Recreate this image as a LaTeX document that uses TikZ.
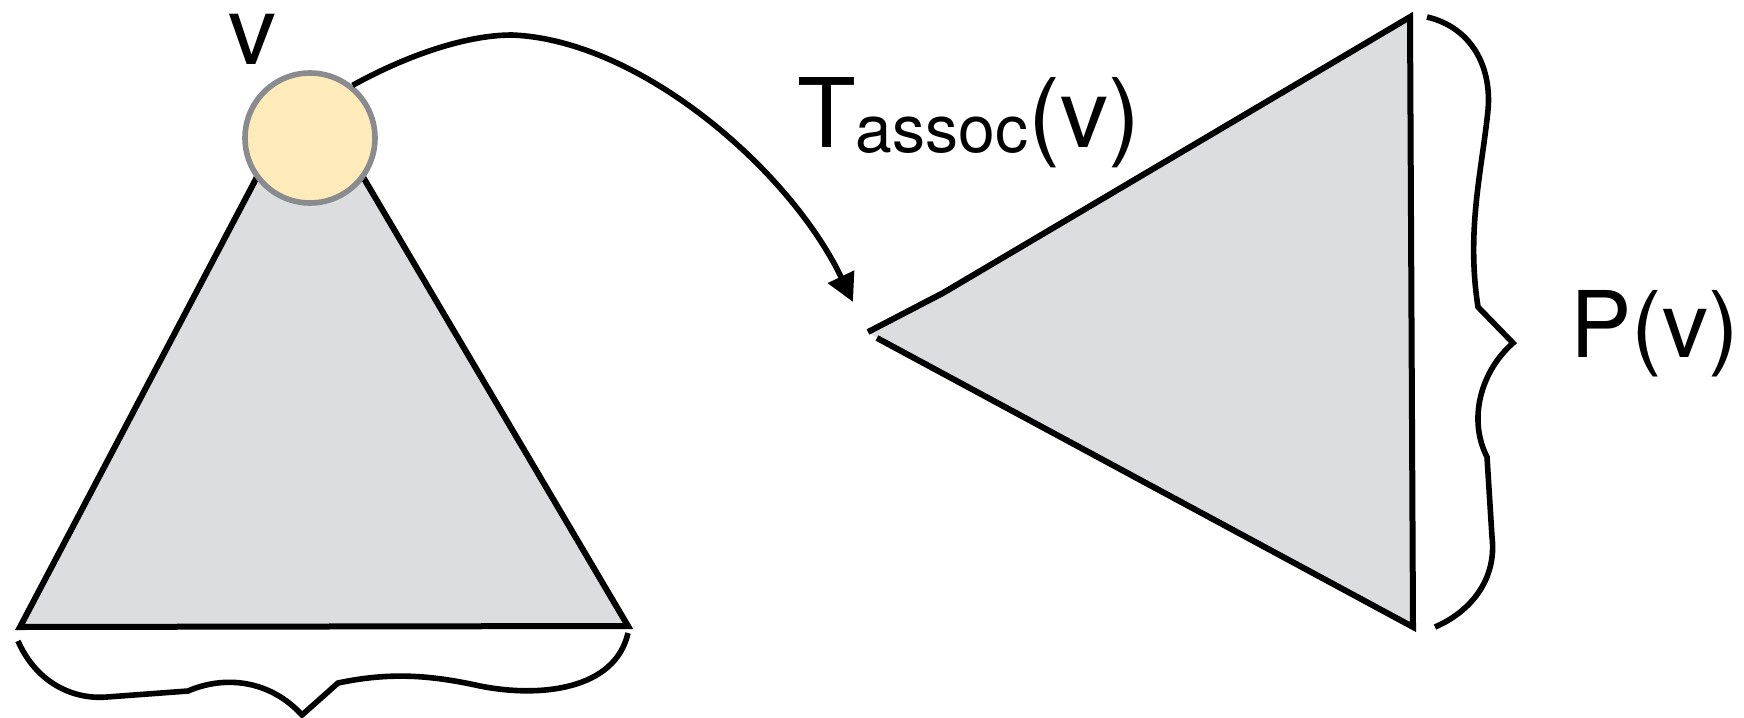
\documentclass[tikz,border=0pt]{standalone}
\usepackage{fontspec}
\setmainfont{TeX Gyre Heros}
\usepackage{xcolor}
\usetikzlibrary{arrows.meta}

\definecolor{trigray}{HTML}{DCDDE0}
\definecolor{nodefill}{HTML}{FEEBB9}
\definecolor{nodeline}{HTML}{898B8F}

\begin{document}
\begin{tikzpicture}[x=1pt, y=-1pt]
        % Define styles for trees, braces and the vertex
        \tikzstyle{tree} = [draw=black, line width=6pt, fill=trigray]
        \tikzstyle{brace} = [draw=black, line width=5.6pt]
        \tikzstyle{vertex} = [circle, draw=nodeline, line width=5.6pt, fill=nodefill,
                              minimum size=130pt, inner sep=0pt]
        \tikzstyle{bigtext} = [inner sep=0pt, font=\fontsize{96}{100}\selectfont]
        \tikzstyle{arrow} = [line width=5.6pt, -{Triangle[length=28pt,width=28pt]}]

        \useasboundingbox (0,0) rectangle (1744,717);

        % Left tree with vertex v on top
        \path[tree] (20,627) -- (307,82) -- (628,626) -- cycle;
        \node (vnode) [vertex] at (310,138) {};
        \node (vlabel) [bigtext, anchor=base] at (252,64) {v};

        % Brace under the left tree
        \path[brace] (18,641) .. controls (35,680) and (70,700) .. (107,697)
            -- (188,691) .. controls (225,675) and (270,680) .. (302,715)
            -- (338,683) .. controls (390,672) and (430,675) .. (480,686)
            .. controls (540,698) and (615,690) .. (628,633);

        % Right tree, open at its tip
        \fill[trigray] (868,332) -- (943,293) -- (1410,17) -- (1413,627) -- (877,338) -- cycle;
        \draw[line width=6pt] (868,332) -- (943,293) -- (1410,17) -- (1413,627) -- (877,338);

        % Brace beside the right tree
        \path[brace] (1427,17) .. controls (1470,27) and (1492,65) .. (1488,110)
            .. controls (1482,170) and (1466,230) .. (1478,307)
            -- (1513,343) .. controls (1480,372) and (1468,420) .. (1487,457)
            -- (1492,537) .. controls (1497,580) and (1470,612) .. (1435,627);
        \node (pv) [bigtext, anchor=base west, font=\fontsize{92}{96}\selectfont] at (1570,357) {P(v)};

        % Arrow from v to the associated tree
        \coordinate (ttip) at (853,302);
        \draw[arrow] (vnode.51) .. controls (400,59) and (462,35) .. (512,35)
            .. controls (640,40) and (790,170) .. (ttip);
        \node (tassoc) [bigtext, anchor=base west] at (797,147)
            {T\raisebox{-5pt}{\fontsize{66}{66}\selectfont assoc}(v)};
\end{tikzpicture}
\end{document}
